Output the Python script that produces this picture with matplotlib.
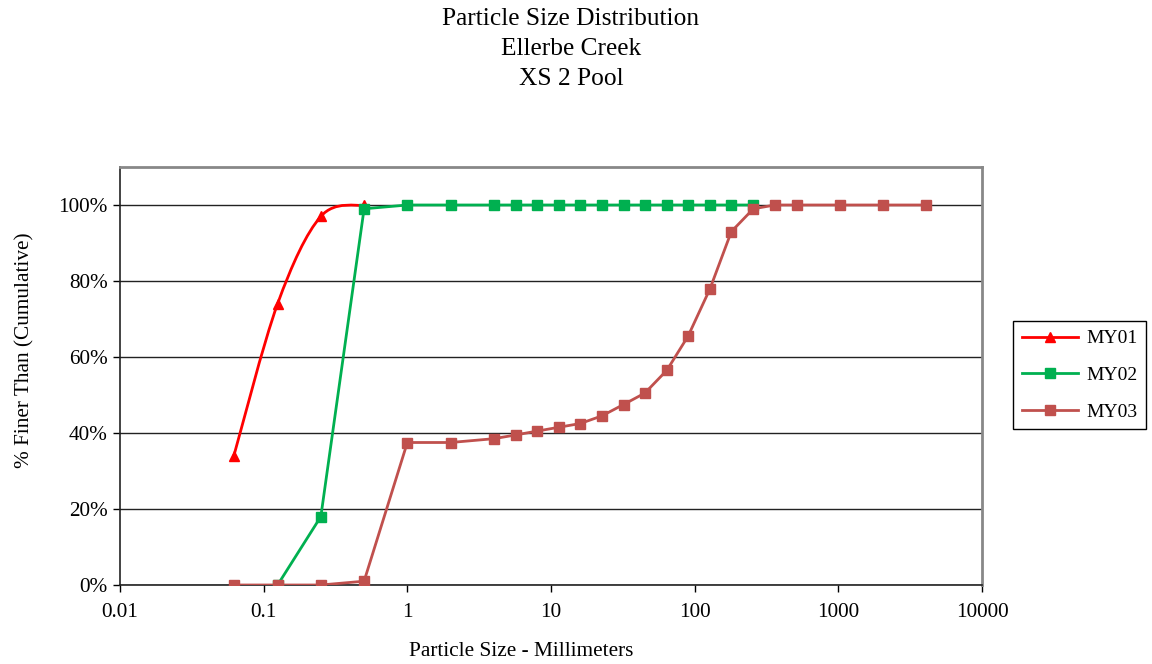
import numpy as np
import matplotlib.pyplot as plt
from matplotlib.path import Path
from matplotlib.patches import PathPatch
from matplotlib.lines import Line2D
from matplotlib.ticker import FuncFormatter, FixedLocator

plt.rcParams['font.family'] = ['Liberation Serif', 'DejaVu Serif']

# tamices (mm)
sizes = [0.062, 0.125, 0.25, 0.5, 1, 2, 4, 5.7, 8, 11.3, 16, 22.6, 32, 45,
         64, 90, 128, 180, 256, 362, 512, 1024, 2048, 4096]

my01_x = [0.062, 0.125, 0.25, 0.5]
my01_y = [34, 74, 97, 100]

my02_x = sizes[1:19]
my02_y = [0, 18, 99, 100, 100, 100, 100, 100, 100, 100, 100, 100, 100, 100,
          100, 100, 100, 100]

my03_x = sizes
my03_y = [0, 0, 0, 1, 37.5, 37.5, 38.5, 39.5, 40.5, 41.5, 42.5, 44.5, 47.5,
          50.5, 56.5, 65.5, 78, 93, 99, 100, 100, 100, 100, 100]

titles = ['Particle Size Distribution', 'Ellerbe Creek', 'XS 2 Pool']

c1, c2, c3 = '#FF0000', '#00B050', '#C0504D'


def smooth_path(xs, ys):
    # curva suavizada tipo Excel (Catmull-Rom -> Bezier) en espacio log10(x)
    lx = np.log10(xs)
    y = np.asarray(ys, dtype=float) / 100
    n = len(lx)
    verts = [(xs[0], y[0])]
    codes = [Path.MOVETO]
    for i in range(n - 1):
        a = max(i - 1, 0)
        b = min(i + 2, n - 1)
        p1 = (lx[i] + (lx[i + 1] - lx[a]) / 6, y[i] + (y[i + 1] - y[a]) / 6)
        p2 = (lx[i + 1] - (lx[b] - lx[i]) / 6, y[i + 1] - (y[b] - y[i]) / 6)
        verts += [(10 ** p1[0], p1[1]), (10 ** p2[0], p2[1]), (xs[i + 1], y[i + 1])]
        codes += [Path.CURVE4] * 3
    return Path(verts, codes)


fig = plt.figure(figsize=(11.52, 6.64), dpi=100)
ax = fig.add_axes([120/1152, 1 - 585/664, 862/1152, 418/664])
ax.set_xscale('log')

ax.add_patch(PathPatch(smooth_path(my01_x, my01_y), fill=False, edgecolor=c1, lw=2, zorder=3))
ax.plot(my01_x, np.array(my01_y) / 100, ls='none', marker='^', ms=7.5, color=c1, zorder=4)
ax.plot(my02_x, np.array(my02_y) / 100, '-', marker='s', ms=7, lw=2, color=c2, zorder=5)
ax.plot(my03_x, np.array(my03_y) / 100, '-', marker='s', ms=7, lw=2, color=c3, zorder=6)

ax.set_xlim(0.01, 10000)
ax.set_ylim(0, 1.1)
ax.xaxis.set_major_locator(FixedLocator([0.01, 0.1, 1, 10, 100, 1000, 10000]))
ax.xaxis.set_minor_locator(FixedLocator([]))
ax.xaxis.set_major_formatter(FuncFormatter(lambda v, p: f'{v:g}'))
ax.yaxis.set_major_locator(FixedLocator([0, 0.2, 0.4, 0.6, 0.8, 1.0]))
ax.yaxis.set_major_formatter(FuncFormatter(lambda v, p: f'{v*100:.0f}%'))
ax.tick_params(labelsize=15.3, length=5, width=1, color='black', direction='out')
ax.tick_params(axis='x', pad=8)
ax.tick_params(axis='y', pad=4)
ax.grid(True, axis='y', color='#222222', lw=1)
ax.set_axisbelow(True)
for s in ['top', 'right']:
    ax.spines[s].set_color('#888888')
    ax.spines[s].set_linewidth(2)
for s in ['left', 'bottom']:
    ax.spines[s].set_color('#222222')
    ax.spines[s].set_linewidth(1.2)

for i, t in enumerate(titles):
    fig.text(571/1152, 1 - (25 + 30*i)/664, t, ha='center', va='baseline', fontsize=18.3)
fig.text(521/1152, 1 - 651/664, 'Particle Size - Millimeters', ha='center', va='center', fontsize=15.3)
fig.text(25/1152, 1 - 350/664, '% Finer Than (Cumulative)', ha='center', va='center',
         rotation=90, fontsize=15.3)

handles = [Line2D([], [], color=c1, lw=2, marker='^', ms=7.5),
           Line2D([], [], color=c2, lw=2, marker='s', ms=7),
           Line2D([], [], color=c3, lw=2, marker='s', ms=7)]
leg = fig.legend(handles, ['MY01', 'MY02', 'MY03'], loc='upper left',
                 bbox_to_anchor=(1013/1152, 1 - 321/664), borderaxespad=0,
                 fontsize=14, handlelength=2.9, handletextpad=0.4,
                 labelspacing=0.98, borderpad=0.45, fancybox=False,
                 edgecolor='black', framealpha=1)
leg.get_frame().set_linewidth(1)

fig.savefig('out.png', dpi=100)
